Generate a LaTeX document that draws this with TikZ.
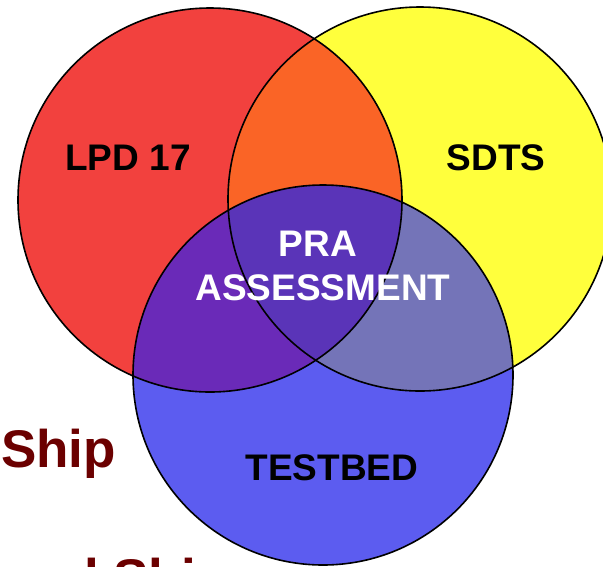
\documentclass[tikz,border=0pt]{standalone}
\usepackage{fontspec}
\setmainfont{Liberation Sans}
\definecolor{venn-red}{HTML}{F2413E}
\definecolor{venn-yellow}{HTML}{FFFF3C}
\definecolor{venn-blue}{HTML}{5C5CF0}
\definecolor{venn-orange}{HTML}{FA6426}
\definecolor{venn-purple}{HTML}{6A2AB8}
\definecolor{venn-slate}{HTML}{7474B8}
\definecolor{venn-core}{HTML}{5A34B8}
\definecolor{ship-red}{HTML}{6B0000}
\tikzset{
  ring/.style={
    draw=black, line width=1.6pt
  },
  tag/.style={
    font=\fontsize{37}{40}\selectfont\bfseries, inner sep=0pt, anchor=base
  },
  shiptag/.style={
    font=\fontsize{53}{60}\selectfont\bfseries, text=ship-red,
    inner sep=0pt, anchor=base west
  }
}

\begin{document}
\begin{tikzpicture}[x=1pt, y=-1pt]
        \clip (0,0) rectangle (603,566);
        \coordinate (lpd) at (210,200);
        \coordinate (sdts) at (420,199);
        \coordinate (bed) at (323,375);

        \fill[venn-red] (lpd) circle[radius=192pt];
        \fill[venn-yellow] (sdts) circle[radius=192pt];
        \fill[venn-blue] (bed) circle[radius=190pt];
        % overlaps
        \begin{scope}
          \clip (sdts) circle[radius=192pt];
          \fill[venn-slate] (bed) circle[radius=190pt];
        \end{scope}
        \begin{scope}
          \clip (lpd) circle[radius=192pt];
          \fill[venn-orange] (sdts) circle[radius=192pt];
          \fill[venn-purple] (bed) circle[radius=190pt];
          \clip (sdts) circle[radius=192pt];
          \fill[venn-core] (bed) circle[radius=190pt];
        \end{scope}

        \draw[ring] (lpd) circle[radius=192pt];
        \draw[ring] (sdts) circle[radius=192pt];
        \draw[ring] (bed) circle[radius=190pt];

        \node[tag] (lpdtag) at (128,170) {LPD 17};
        \node[tag] (sdtstag) at (496,170) {SDTS};
        \node[tag, text=white] (pratag) at (318,256) {PRA};
        \node[tag, text=white] (assesstag) at (323,300) {ASSESSMENT};
        \node[tag] (bedtag) at (332,480) {TESTBED};
        \node[shiptag] (ship) at (1,467) {Ship};
        \node[shiptag] (navalship) at (84,596) {l Shi};
      \end{tikzpicture}
\end{document}
